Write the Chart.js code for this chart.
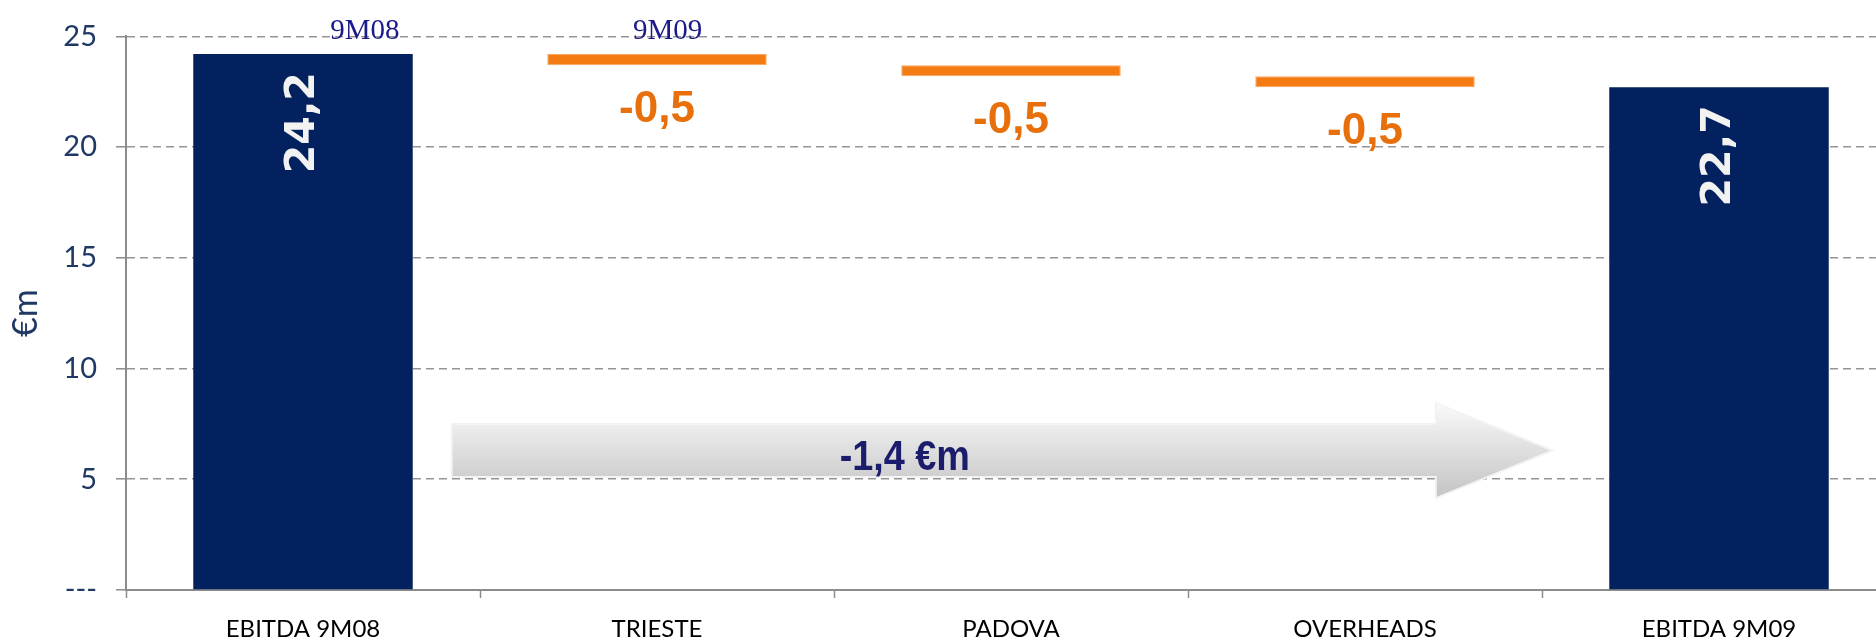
<!DOCTYPE html>
<html>
<head>
<meta charset="utf-8">
<script src="https://cdn.jsdelivr.net/npm/chart.js@4.4.1/dist/chart.umd.min.js"></script>
<style>
  html, body { margin: 0; padding: 0; background: #fff; overflow: hidden; }
  /* plot runs a bit past the right edge of the window, like the original slide */
  #wrap { width: 1896px; height: 644px; }
</style>
</head>
<body>
<div id="wrap"><canvas id="c"></canvas></div>
<script>
// dados
const categorias = ['EBITDA 9M08', 'TRIESTE', 'PADOVA', 'OVERHEADS', 'EBITDA 9M09'];
const base = [0, 23.7, 23.2, 22.7, 0];
const topo = [24.2, 24.2, 23.7, 23.2, 22.7];
const rotulos = ['24,2', '-0,5', '-0,5', '-0,5', '22,7'];
const tipo = ['total', 'delta', 'delta', 'delta', 'total'];
const yTicks = [0, 5, 10, 15, 20, 25];
const variacao = '-1,4 €m';
const periodos = ['9M08', '9M09'];

const NAVY = '#02215e', ORANGE = '#f47a12', ORANGE_TXT = '#e8700c';

const labelsPlugin = {
  id: 'labels',
  beforeDatasetsDraw(chart) {
    // seta cinza com o total da variação
    const { ctx } = chart, x = chart.scales.x, y = chart.scales.y;
    const xl = x.getPixelForValue(0.42), xb = x.getPixelForValue(3.2), xt = x.getPixelForValue(3.53);
    const st = y.getPixelForValue(7.5), sb = y.getPixelForValue(5.1);
    const ht = y.getPixelForValue(8.45), hb = y.getPixelForValue(4.15), hm = y.getPixelForValue(6.3);
    ctx.save();
    const g = ctx.createLinearGradient(0, ht, 0, hb);
    g.addColorStop(0, '#fafafa'); g.addColorStop(1, '#c3c3c3');
    ctx.beginPath();
    ctx.moveTo(xl, st); ctx.lineTo(xb, st); ctx.lineTo(xb, ht); ctx.lineTo(xt, hm);
    ctx.lineTo(xb, hb); ctx.lineTo(xb, sb); ctx.lineTo(xl, sb); ctx.closePath();
    ctx.fillStyle = g; ctx.fill();
    ctx.strokeStyle = '#f3f3f3'; ctx.lineWidth = 2; ctx.stroke();
    ctx.fillStyle = '#1c1c6c';
    ctx.font = 'bold 42px "Liberation Sans", Arial, sans-serif';
    ctx.textAlign = 'center'; ctx.textBaseline = 'alphabetic';
    ctx.translate(x.getPixelForValue(1.7), y.getPixelForValue(5.42));
    ctx.scale(0.9, 1);
    ctx.fillText(variacao, 0, 0);
    ctx.restore();
  },
  afterDatasetsDraw(chart) {
    const { ctx } = chart, x = chart.scales.x, y = chart.scales.y;
    const bars = chart.getDatasetMeta(0).data;
    ctx.save();
    bars.forEach((b, i) => {
      if (tipo[i] === 'total') {
        ctx.save();
        ctx.translate(b.x, Math.min(b.y, b.base) + 18);
        ctx.rotate(-Math.PI / 2);
        ctx.fillStyle = '#f2f2f2';
        ctx.font = 'bold 41px "DejaVu Sans", sans-serif';
        ctx.textAlign = 'right'; ctx.textBaseline = 'middle';
        ctx.fillText(rotulos[i], 0, 0);
        ctx.restore();
      } else {
        ctx.fillStyle = ORANGE_TXT;
        ctx.font = 'bold 44px "Liberation Sans", Arial, sans-serif';
        ctx.textAlign = 'center'; ctx.textBaseline = 'alphabetic';
        ctx.fillText(rotulos[i], b.x, Math.max(b.y, b.base) + 57);
      }
    });
    // 9M08 / 9M09 sobre a linha do 25
    ctx.fillStyle = '#1a1a8a';
    ctx.font = '29px "Liberation Serif", "Times New Roman", serif';
    ctx.textAlign = 'center'; ctx.textBaseline = 'alphabetic';
    ctx.fillText(periodos[0], x.getPixelForValue(0.175), y.getPixelForValue(24.9));
    ctx.fillText(periodos[1], x.getPixelForValue(1.03), y.getPixelForValue(24.9));
    ctx.restore();
  },
};

new Chart(document.getElementById('c').getContext('2d'), {
  type: 'bar',
  data: {
    labels: categorias,
    datasets: [{
      data: categorias.map((_, i) => [base[i], topo[i]]),
      backgroundColor: tipo.map(t => t === 'total' ? NAVY : ORANGE),
      borderColor: tipo.map(t => t === 'total' ? NAVY : '#f8a860'),
      borderWidth: tipo.map(t => t === 'total' ? 0 : 1),
      borderSkipped: false,
      barPercentage: 0.62, categoryPercentage: 1,
    }],
  },
  options: {
    responsive: true, maintainAspectRatio: false, animation: false,
    layout: { padding: { top: 36, right: 0, left: 0, bottom: 0 } },
    plugins: { legend: { display: false }, tooltip: { enabled: false } },
    scales: {
      x: {
        afterFit: s => { s.height = 54; },
        grid: { offset: true, drawOnChartArea: false, tickLength: 8, tickColor: '#8c8c8c', tickWidth: 1.5 },
        border: { color: '#8c8c8c', width: 2 },
        ticks: { color: '#000', padding: 17, font: { family: 'Lato, "Open Sans", sans-serif', size: 24 } },
      },
      y: {
        min: 0, max: 25,
        afterBuildTicks: s => { s.ticks = yTicks.map(v => ({ value: v })); },
        afterFit: s => { s.width = 126; },
        grid: {
          color: c => c.tick && c.tick.value === 0 ? 'rgba(0,0,0,0)' : '#959595',
          lineWidth: 1.6, tickLength: 10, tickColor: '#8c8c8c', tickWidth: 1.5, tickBorderDash: [],
        },
        border: { color: '#8c8c8c', width: 2, dash: [8, 5] },
        ticks: {
          color: '#1f3864', padding: 19,
          font: { family: 'Lato, "Open Sans", sans-serif', size: 29 },
          callback: v => v === 0 ? '---' : String(v),
        },
        title: {
          display: true, text: '€m', color: '#1f3864', padding: { top: 6, bottom: 0 },
          font: { family: 'Lato, "Open Sans", sans-serif', size: 34 },
        },
      },
    },
  },
  plugins: [labelsPlugin],
});
</script>
</body>
</html>
